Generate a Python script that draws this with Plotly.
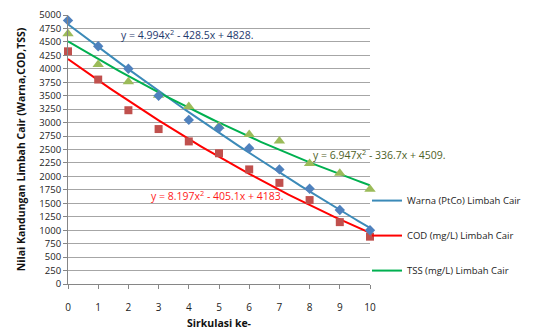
import numpy as np
import plotly.graph_objects as go

# Sirkulasi (circulation number)
sirkulasi = list(range(0, 11))

# Measured values per circulation
warna = [4900, 4420, 4000, 3500, 3050, 2900, 2525, 2130, 1770, 1375, 1000]
cod = [4325, 3800, 3230, 2880, 2650, 2430, 2130, 1880, 1560, 1150, 880]
tss = [4650, 4080, 3760, 3510, 3300, 2930, 2780, 2660, 2240, 2060, 1760]

# Quadratic trendline coefficients (a, b, c) for y = a x^2 + b x + c
coef_warna = (4.994, -428.5, 4828)
coef_cod = (8.197, -405.1, 4183)
coef_tss = (6.947, -336.7, 4509)

y_ticks = list(range(0, 5001, 250))

FONT = "Open Sans"

xs = np.linspace(0, 10, 101)


def trend(c):
    a, b, k = c
    return a * xs**2 + b * xs + k


fig = go.Figure()

# trendlines
fig.add_trace(go.Scatter(x=xs, y=trend(coef_warna), mode="lines",
                         name="Warna (PtCo) Limbah Cair", legendgroup="w",
                         line=dict(color="#3B8AB8", width=2)))
fig.add_trace(go.Scatter(x=xs, y=trend(coef_cod), mode="lines",
                         name="COD (mg/L) Limbah Cair", legendgroup="c",
                         line=dict(color="#FF0000", width=2)))
fig.add_trace(go.Scatter(x=xs, y=trend(coef_tss), mode="lines",
                         name="TSS (mg/L) Limbah Cair", legendgroup="t",
                         line=dict(color="#00B050", width=2)))

# measured points
fig.add_trace(go.Scatter(x=sirkulasi, y=tss, mode="markers", showlegend=False,
                         cliponaxis=False,
                         marker=dict(symbol="triangle-up", size=10, color="#9BBB59")))
fig.add_trace(go.Scatter(x=sirkulasi, y=cod, mode="markers", showlegend=False,
                         cliponaxis=False,
                         marker=dict(symbol="square", size=8, color="#C0504D")))
fig.add_trace(go.Scatter(x=sirkulasi, y=warna, mode="markers", showlegend=False,
                         cliponaxis=False,
                         marker=dict(symbol="diamond", size=8, color="#4F81BD")))


def eq_text(c):
    a, b, k = c
    return f"y = {a}x<sup>2</sup> - {abs(b)}x + {k}."


EQ_SIZE = 10.5
fig.add_annotation(x=3.96, y=4640, text=eq_text(coef_warna), showarrow=False,
                   font=dict(family=FONT, size=EQ_SIZE, color="#1F3A6E"))
fig.add_annotation(x=4.95, y=1636, text=eq_text(coef_cod), showarrow=False,
                   font=dict(family=FONT, size=EQ_SIZE, color="#FF1A1A"))
fig.add_annotation(xref="paper", x=1.033, xanchor="center", y=2416,
                   text=eq_text(coef_tss), showarrow=False,
                   font=dict(family=FONT, size=EQ_SIZE, color="#4F6228"))

fig.update_layout(
    width=534, height=333,
    margin=dict(l=68, r=164, t=15, b=49, autoexpand=False),
    paper_bgcolor="white", plot_bgcolor="white",
    font=dict(family=FONT, size=10, color="#222222"),
    legend=dict(x=0.99, y=0.18, xanchor="left", yanchor="middle",
                bgcolor="rgba(0,0,0,0)",
                tracegroupgap=16, itemwidth=30,
                font=dict(family=FONT, size=9.5, color="#222222")),
    xaxis=dict(range=[0, 10], tickvals=sirkulasi, showgrid=False,
               showline=True, linecolor="#868686", ticks="outside",
               ticklen=4, tickcolor="#868686", ticklabelstandoff=10,
               zeroline=False,
               title=dict(text="<b>Sirkulasi ke-</b>", standoff=6,
                          font=dict(family=FONT, size=10.5, color="#111111"))),
    yaxis=dict(range=[0, 5000], tickvals=y_ticks, showgrid=True,
               gridcolor="#A6A6A6", gridwidth=1, showline=True,
               linecolor="#868686", ticks="outside", ticklen=4,
               tickcolor="#868686", zeroline=False,
               tickfont=dict(size=9.5),
               title=dict(text="<b>Nilai Kandungan Limbah Cair (Warna,COD,TSS)</b>",
                          standoff=11,
                          font=dict(family=FONT, size=10.5, color="#111111"))),
)

fig.write_html("out.html")
